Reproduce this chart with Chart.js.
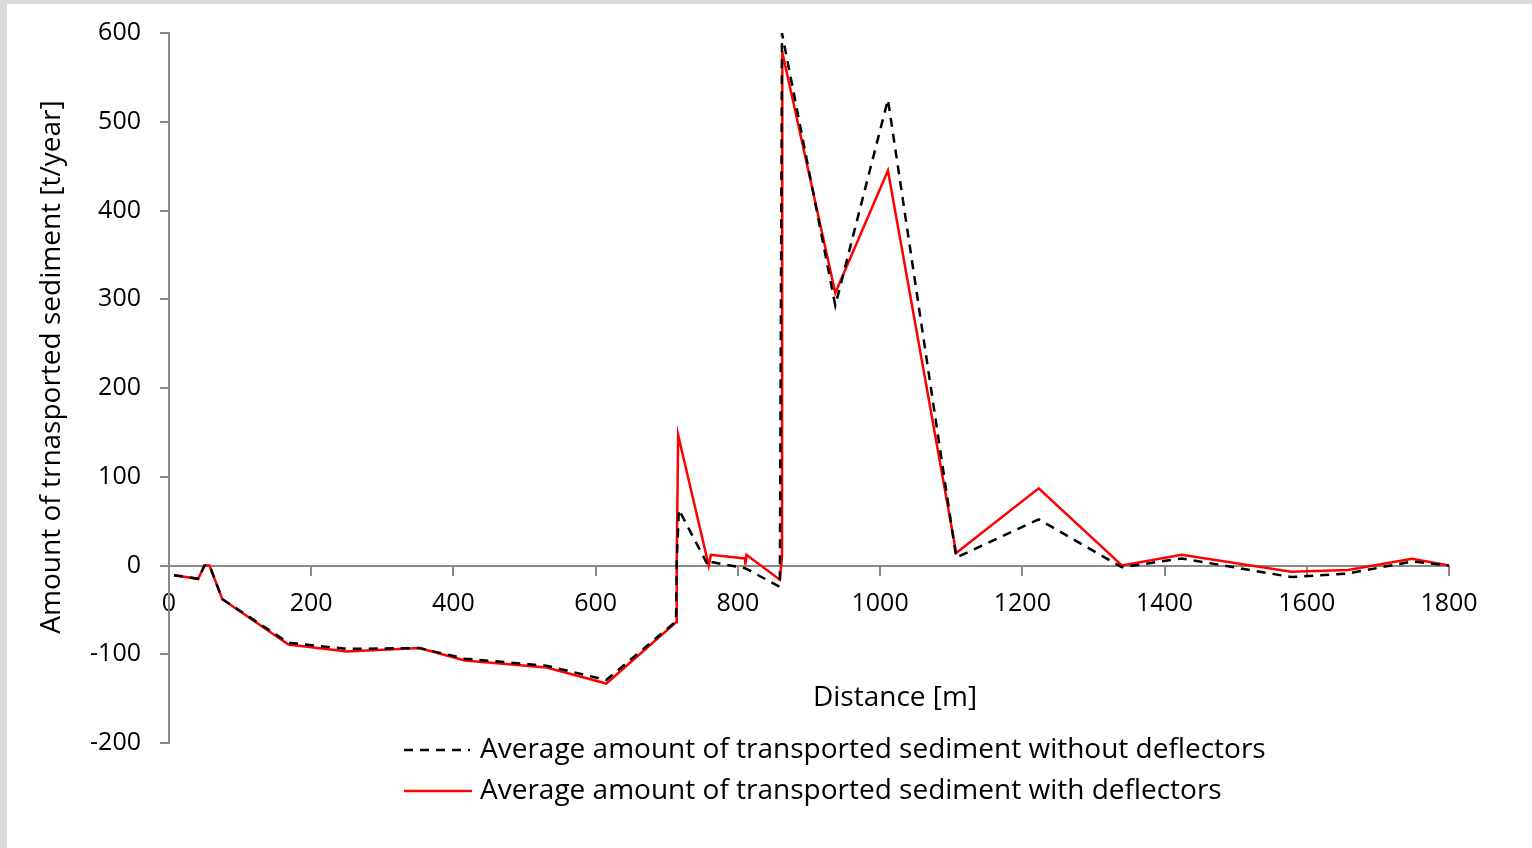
<!DOCTYPE html>
<html>
<head>
<meta charset="utf-8">
<script src="https://cdn.jsdelivr.net/npm/chart.js@4"></script>
<style>
  html, body { margin: 0; padding: 0; background: #d9d9d9; }
  #wrap { position: absolute; left: 7px; top: 4px; width: 1525px; height: 844px; background: #fff; }
</style>
</head>
<body>
<div id="wrap"><canvas id="chart" width="1525" height="844"></canvas></div>
<script>
'use strict';

// distance along the river [m] and sediment [t/year]
const distanceWithout = [7, 41, 50, 57, 75, 168, 250, 352, 416, 531, 615, 713, 714, 717, 758, 762, 810, 859, 862, 937, 1011, 1107, 1223, 1340, 1424, 1578, 1658, 1748, 1800];
const sedimentWithout = [-11, -15, 0, 0, -38, -87, -94, -93, -105, -113, -129, -63, 5, 63, 0, 4, -3, -24, 600, 293, 525, 9, 52, -2, 8, -13, -9, 4.5, 0];

const distanceWith = [7, 41, 50, 57, 75, 168, 250, 352, 416, 531, 615, 713, 714, 716, 759, 762, 810, 810.5, 812, 859, 862, 862.5, 937, 1011, 1107, 1223, 1340, 1424, 1578, 1658, 1748, 1800];
const sedimentWith = [-11, -15, 0, 0, -38, -89, -97, -93, -107, -115, -133, -64, 5, 147, 0, 12, 8, 1, 12, -16, 10, 578, 307, 445, 14, 87, 0, 12, -7, -5, 7.5, 0];

const xTicks = [0, 200, 400, 600, 800, 1000, 1200, 1400, 1600, 1800];
const yTicks = [-200, -100, 0, 100, 200, 300, 400, 500, 600];

const labelWithout = 'Average amount of transported sediment without deflectors';
const labelWith = 'Average amount of transported sediment with deflectors';
const xTitle = 'Distance [m]';
const yTitle = 'Amount of trnasported sediment [t/year]';

function toPoints(xs, ys) {
  let pts = [];
  for (let i = 0; i < xs.length; i++) {
    pts.push({x: xs[i], y: ys[i]});
  }
  return pts;
}

const axisGray = '#898989';

// axis titles and legend, placed where the original (Excel) put them
const titlesAndLegend = {
  id: 'titlesAndLegend',
  afterDraw(chart) {
    const ctx = chart.ctx;
    const rows = [746, 787];
    ctx.save();
    ctx.font = "28px 'Open Sans', sans-serif";
    ctx.textBaseline = 'middle';
    ctx.fillStyle = '#000';

    ctx.textAlign = 'center';
    ctx.fillText(xTitle, 888, 694);
    ctx.save();
    ctx.translate(45, 363);
    ctx.rotate(-Math.PI / 2);
    ctx.fillText(yTitle, 0, 0);
    ctx.restore();

    ctx.textAlign = 'left';
    chart.data.datasets.forEach((ds, i) => {
      const y = rows[i];
      ctx.beginPath();
      ctx.strokeStyle = ds.borderColor;
      ctx.lineWidth = ds.borderWidth;
      ctx.setLineDash(ds.borderDash || []);
      ctx.moveTo(397, y);
      ctx.lineTo(i === 0 ? 463 : 465, y);
      ctx.stroke();
      ctx.setLineDash([]);
      ctx.fillText(ds.label, 473, y);
    });
    ctx.restore();
  }
};

Chart.defaults.font.family = "'Open Sans', sans-serif";
Chart.defaults.font.size = 25;
Chart.defaults.color = '#000';

new Chart(document.getElementById('chart'), {
  type: 'line',
  data: {
    datasets: [{
      label: labelWithout,
      data: toPoints(distanceWithout, sedimentWithout),
      borderColor: '#000000',
      borderWidth: 2.5,
      borderDash: [9, 7],
      pointRadius: 0,
      tension: 0
    },
    {
      label: labelWith,
      data: toPoints(distanceWith, sedimentWith),
      borderColor: '#ff0000',
      borderWidth: 2.5,
      pointRadius: 0,
      tension: 0
    }]
  },
  plugins: [titlesAndLegend],
  options: {
    responsive: false,
    animation: false,
    layout: {
      padding: {top: 29, right: 83, bottom: 105, left: 0}
    },
    plugins: {
      legend: {display: false},
      tooltip: {enabled: false}
    },
    scales: {
      x: {
        type: 'linear',
        min: 0,
        max: 1800,
        position: {y: 0},
        afterBuildTicks: (scale) => { scale.ticks = xTicks.map(v => ({value: v})); },
        ticks: {padding: 14, maxRotation: 0, autoSkip: false, callback: (v) => String(v)},
        grid: {drawOnChartArea: false, tickLength: 9, color: axisGray, lineWidth: 2},
        border: {color: axisGray, width: 2}
      },
      y: {
        min: -200,
        max: 600,
        afterBuildTicks: (scale) => { scale.ticks = yTicks.map(v => ({value: v})); },
        afterFit: (scale) => {
          scale.width = 162;
          scale.paddingTop = 0;
          scale.paddingBottom = 0;
        },
        ticks: {padding: 19, callback: (v) => String(v)},
        grid: {drawOnChartArea: false, tickLength: 9, color: axisGray, lineWidth: 2},
        border: {color: axisGray, width: 2}
      }
    }
  }
});
</script>
</body>
</html>
